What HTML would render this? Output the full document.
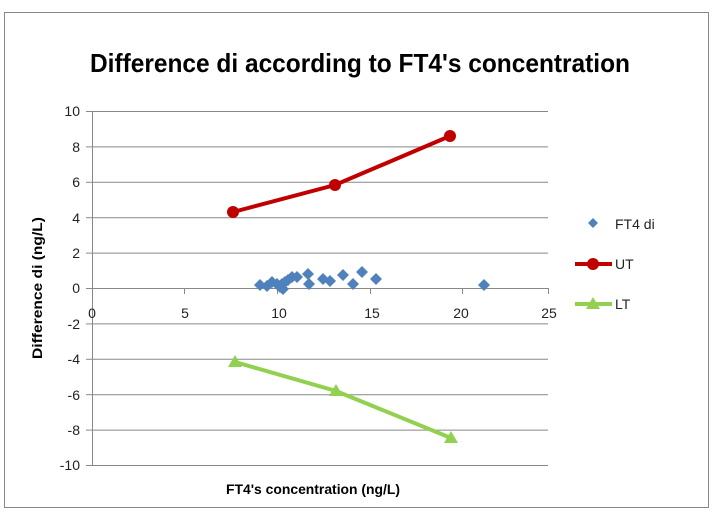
<!DOCTYPE html>
<html><head><meta charset="utf-8"><style>
body{margin:0;background:#fff;}
svg{display:block;font-family:"Liberation Sans",sans-serif;}
</style></head><body>
<svg width="717" height="519" viewBox="0 0 717 519">
<rect x="0" y="0" width="717" height="519" fill="#fff"/>
<rect x="4.5" y="12.5" width="704" height="495" fill="#fff" stroke="#888" stroke-width="1"/>
<text x="360" y="72" text-anchor="middle" font-size="26" font-weight="bold" textLength="540" lengthAdjust="spacingAndGlyphs">Difference di according to FT4's concentration</text>
<g stroke="#888" stroke-width="1">
<line x1="92" y1="111.5" x2="548" y2="111.5"/>
<line x1="92" y1="146.9" x2="548" y2="146.9"/>
<line x1="92" y1="182.3" x2="548" y2="182.3"/>
<line x1="92" y1="217.7" x2="548" y2="217.7"/>
<line x1="92" y1="253.1" x2="548" y2="253.1"/>
<line x1="92" y1="288.5" x2="548" y2="288.5"/>
<line x1="92" y1="323.9" x2="548" y2="323.9"/>
<line x1="92" y1="359.3" x2="548" y2="359.3"/>
<line x1="92" y1="394.7" x2="548" y2="394.7"/>
<line x1="92" y1="430.1" x2="548" y2="430.1"/>
<line x1="92" y1="465.5" x2="548" y2="465.5"/>
<line x1="92.5" y1="111" x2="92.5" y2="466"/>
<line x1="86" y1="111.5" x2="92" y2="111.5"/><line x1="86" y1="146.9" x2="92" y2="146.9"/><line x1="86" y1="182.3" x2="92" y2="182.3"/><line x1="86" y1="217.7" x2="92" y2="217.7"/><line x1="86" y1="253.1" x2="92" y2="253.1"/><line x1="86" y1="288.5" x2="92" y2="288.5"/><line x1="86" y1="323.9" x2="92" y2="323.9"/><line x1="86" y1="359.3" x2="92" y2="359.3"/><line x1="86" y1="394.7" x2="92" y2="394.7"/><line x1="86" y1="430.1" x2="92" y2="430.1"/><line x1="86" y1="465.5" x2="92" y2="465.5"/>
<line x1="184.5" y1="288" x2="184.5" y2="294"/><line x1="277.5" y1="288" x2="277.5" y2="294"/><line x1="370.5" y1="288" x2="370.5" y2="294"/><line x1="462.5" y1="288" x2="462.5" y2="294"/><line x1="548.5" y1="288" x2="548.5" y2="294"/>
</g>
<g font-size="14" fill="#222" text-anchor="end">
<text x="80" y="116">10</text><text x="80" y="152">8</text><text x="80" y="187">6</text><text x="80" y="223">4</text><text x="80" y="258">2</text><text x="80" y="293">0</text><text x="80" y="329">-2</text><text x="80" y="364">-4</text><text x="80" y="400">-6</text><text x="80" y="435">-8</text><text x="80" y="470">-10</text>
</g>
<g font-size="14" fill="#222" text-anchor="middle">
<text x="92" y="318">0</text><text x="185" y="318">5</text><text x="279" y="318">10</text><text x="372" y="318">15</text><text x="461" y="318">20</text><text x="549" y="318">25</text>
</g>
<text transform="translate(42,288) rotate(-90)" text-anchor="middle" font-size="14" font-weight="bold" textLength="142" lengthAdjust="spacingAndGlyphs">Difference di (ng/L)</text>
<text x="313" y="494" text-anchor="middle" font-size="14" font-weight="bold" textLength="174" lengthAdjust="spacingAndGlyphs">FT4's concentration (ng/L)</text>
<polyline points="233,212 335,185 450,136" fill="none" stroke="#c00000" stroke-width="4"/>
<g fill="#c00000"><circle cx="233" cy="212" r="6"/><circle cx="335" cy="185" r="6"/><circle cx="450" cy="136" r="6"/></g>
<polyline points="235,362 336,391 451,438" fill="none" stroke="#92d050" stroke-width="4"/>
<g fill="#92d050"><polygon points="235,355 242,367 228,367"/><polygon points="336,384 343,396 329,396"/><polygon points="451,431 458,443 444,443"/></g>
<g fill="#4f81bd">
<path d="M260,279 l6,6 -6,6 -6,-6z"/><path d="M267,280 l6,6 -6,6 -6,-6z"/><path d="M272,276 l6,6 -6,6 -6,-6z"/><path d="M277,278 l6,6 -6,6 -6,-6z"/><path d="M280,281 l6,6 -6,6 -6,-6z"/><path d="M282,278 l6,6 -6,6 -6,-6z"/><path d="M285,276 l6,6 -6,6 -6,-6z"/><path d="M288,274 l6,6 -6,6 -6,-6z"/><path d="M292,271 l6,6 -6,6 -6,-6z"/><path d="M297,271 l6,6 -6,6 -6,-6z"/><path d="M308,268 l6,6 -6,6 -6,-6z"/><path d="M309,278 l6,6 -6,6 -6,-6z"/><path d="M323,273 l6,6 -6,6 -6,-6z"/><path d="M330,275 l6,6 -6,6 -6,-6z"/><path d="M343,269 l6,6 -6,6 -6,-6z"/><path d="M353,278 l6,6 -6,6 -6,-6z"/><path d="M362,266 l6,6 -6,6 -6,-6z"/><path d="M376,273 l6,6 -6,6 -6,-6z"/><path d="M484,279 l6,6 -6,6 -6,-6z"/><path d="M283,283 l6,6 -6,6 -6,-6z"/>
</g>
<path d="M593,218 l5,5 -5,5 -5,-5z" fill="#4f81bd"/>
<text x="615" y="229" font-size="14" fill="#222">FT4 di</text>
<line x1="575" y1="264" x2="612" y2="264" stroke="#c00000" stroke-width="4"/><circle cx="593" cy="264" r="6" fill="#c00000"/>
<text x="615" y="269" font-size="14" fill="#222">UT</text>
<line x1="575" y1="304" x2="612" y2="304" stroke="#92d050" stroke-width="4"/><polygon points="593,297 600,309 586,309" fill="#92d050"/>
<text x="615" y="309" font-size="14" fill="#222">LT</text>
</svg>
</body></html>
